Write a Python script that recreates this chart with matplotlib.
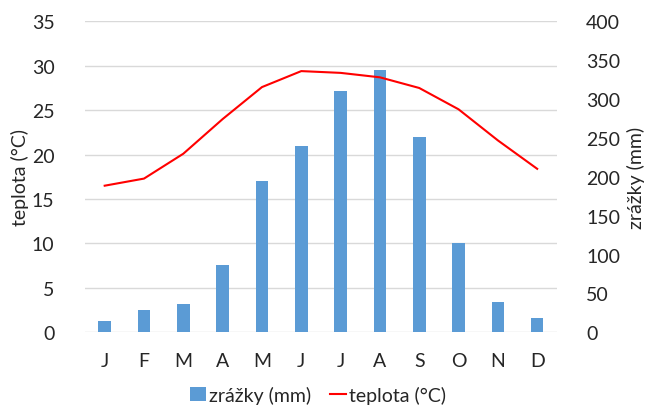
import matplotlib.pyplot as plt
import numpy as np

plt.rcParams['font.family'] = ['Lato', 'DejaVu Sans']

# data
months = ['J', 'F', 'M', 'A', 'M', 'J', 'J', 'A', 'S', 'O', 'N', 'D']
zrazky = [15, 29, 36, 86, 195, 239, 311, 337, 251, 115, 39, 19]          # mm, right axis
teplota = [16.5, 17.3, 20.1, 24.0, 27.6, 29.4, 29.2, 28.7, 27.5, 25.1, 21.6, 18.4]  # °C, left axis

x = np.arange(len(months))
grid_c = '#d9d9d9'
txt_c = '#262626'

fig = plt.figure(figsize=(6.49, 4.14), dpi=100)
ax1 = fig.add_axes([0.131, 0.195, 0.727, 0.751])
ax2 = ax1.twinx()
# extra axes on top for the temperature line (shares the left scale)
ax3 = fig.add_axes(ax1.get_position(), sharex=ax1, sharey=ax1)
ax3.set_axis_off()

bars = ax2.bar(x, zrazky, width=0.32, color='#5b9bd5', label='zrážky (mm)', zorder=2)
line, = ax3.plot(x, teplota, color='#ff0000', lw=1.5, label='teplota (°C)')

ax1.set_ylim(0, 35)
ax1.set_yticks(np.arange(0, 36, 5))
ax2.set_ylim(0, 400)
ax2.set_yticks(np.arange(0, 401, 50))
ax1.set_xlim(-0.5, 11.5)
ax1.set_xticks(x)
ax1.set_xticklabels(months)

ax1.grid(axis='y', color=grid_c, lw=1)
ax1.set_axisbelow(True)

for ax in (ax1, ax2):
    for s in ax.spines.values():
        s.set_visible(False)
    ax.tick_params(length=0, labelsize=14, colors=txt_c)
ax1.tick_params(axis='y', pad=22)
ax2.tick_params(axis='y', pad=21)
ax1.tick_params(axis='x', pad=14)

ax1.set_ylabel('teplota (°C)', fontsize=14, color=txt_c, labelpad=2)
ax2.set_ylabel('zrážky (mm)', fontsize=14, color=txt_c, labelpad=5)

fig.legend(handles=[bars, line], loc='lower center', bbox_to_anchor=(0.49, -0.02),
           ncol=2, frameon=False, fontsize=14, handlelength=0.8,
           handletextpad=0.15, columnspacing=1.0, labelcolor=txt_c)

fig.savefig('out.png', dpi=100)
